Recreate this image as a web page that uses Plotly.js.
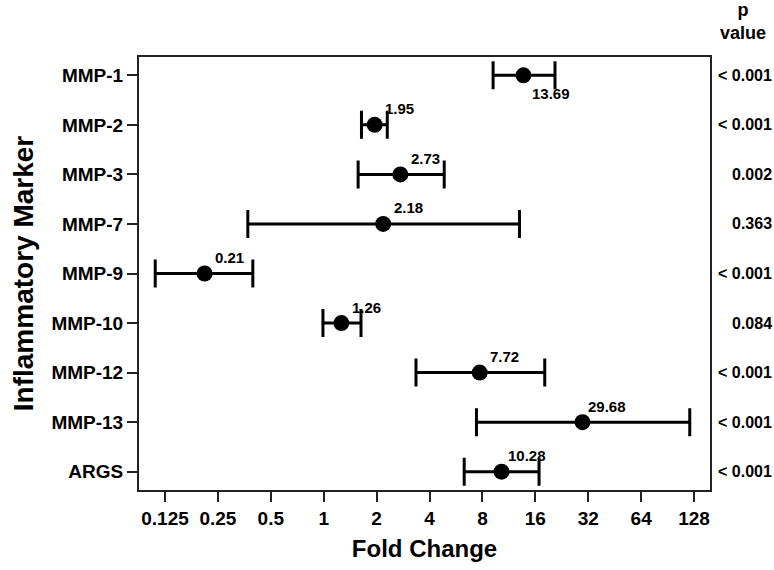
<!DOCTYPE html>
<html>
<head>
<meta charset="utf-8">
<script src="https://cdn.plot.ly/plotly-3.0.1.min.js"></script>
<style>
  html, body { margin: 0; padding: 0; background: white; }
  #plotDiv { width: 774px; height: 570px; }
</style>
</head>
<body>
<div id="plotDiv"></div>
<script>
// values
var markers = ['MMP-1', 'MMP-2', 'MMP-3', 'MMP-7', 'MMP-9', 'MMP-10', 'MMP-12', 'MMP-13', 'ARGS'];
var foldChange = [13.69, 1.95, 2.73, 2.18, 0.21, 1.26, 7.72, 29.68, 10.28];
var ciLower = [9.2, 1.64, 1.57, 0.37, 0.11, 0.99, 3.35, 7.4, 6.3];
var ciUpper = [20.7, 2.3, 4.85, 13.0, 0.395, 1.63, 18.1, 121, 16.8];
var pValues = ['< 0.001', '< 0.001', '0.002', '0.363', '< 0.001', '0.084', '< 0.001', '< 0.001', '< 0.001'];
var tickVals = [0.125, 0.25, 0.5, 1, 2, 4, 8, 16, 32, 64, 128];
var tickText = ['0.125', '0.25', '0.5', '1', '2', '4', '8', '16', '32', '64', '128'];

var fontFam = 'Liberation Sans, Arial, sans-serif';

var trace = {
    x: foldChange,
    y: markers,
    type: 'scatter',
    mode: 'markers',
    marker: { color: 'black', size: 16 },
    error_x: {
        type: 'data',
        symmetric: false,
        array: foldChange.map((v, i) => ciUpper[i] - v),
        arrayminus: foldChange.map((v, i) => v - ciLower[i]),
        color: 'black',
        thickness: 3,
        width: 14
    },
    hoverinfo: 'x+y'
};

// value labels next to each point
var annotations = foldChange.map((v, i) => ({
    x: Math.log10(v),
    y: markers[i],
    xref: 'x', yref: 'y',
    text: v.toFixed(2),
    showarrow: false,
    xshift: i === 0 ? 28 : 25,
    yshift: i === 0 ? -18 : 16,
    font: { family: fontFam, size: 15, color: 'black', weight: 'bold' }
}));

// p value column
pValues.forEach((p, i) => {
    annotations.push({
        x: 1, y: markers[i],
        xref: 'paper', yref: 'y',
        xanchor: 'right',
        xshift: 64,
        text: p,
        showarrow: false,
        font: { family: fontFam, size: 16, color: 'black', weight: 'bold' }
    });
});
annotations.push({
    x: 1, y: 1,
    xref: 'paper', yref: 'paper',
    xanchor: 'center', yanchor: 'bottom',
    xshift: 33, yshift: 12,
    text: 'p<br>value',
    showarrow: false,
    font: { family: fontFam, size: 18, color: 'black', weight: 'bold' }
});

var layout = {
    width: 774,
    height: 570,
    margin: { l: 139, r: 64, t: 57, b: 80 },
    paper_bgcolor: 'white',
    plot_bgcolor: 'white',
    showlegend: false,
    xaxis: {
        type: 'log',
        range: [-1.051, 2.198],
        tickvals: tickVals,
        ticktext: tickText,
        ticks: 'outside',
        ticklen: 10,
        tickwidth: 2,
        tickcolor: '#222',
        showgrid: false,
        zeroline: false,
        showline: true,
        linecolor: '#222',
        linewidth: 2,
        mirror: true,
        tickfont: { family: fontFam, size: 19, color: 'black', weight: 'bold' },
        title: {
            text: 'Fold Change',
            font: { family: fontFam, size: 24, color: 'black', weight: 'bold' },
            standoff: 12
        }
    },
    yaxis: {
        type: 'category',
        categoryarray: markers,
        range: [8.37, -0.37],
        ticks: 'outside',
        ticklen: 10,
        tickwidth: 2,
        tickcolor: '#222',
        showgrid: false,
        zeroline: false,
        showline: true,
        linecolor: '#222',
        linewidth: 2,
        mirror: true,
        tickfont: { family: fontFam, size: 19, color: 'black', weight: 'bold' },
        title: {
            text: 'Inflammatory Marker',
            font: { family: fontFam, size: 28, color: 'black', weight: 'bold' },
            standoff: 10
        }
    },
    shapes: [
        { type: 'line', xref: 'x', yref: 'paper', x0: 0, x1: 0, y0: 0, y1: 1,
          layer: 'below', line: { color: '#8c8c8c', width: 1.5 } }
    ],
    annotations: annotations
};

Plotly.newPlot('plotDiv', [trace], layout, { displayModeBar: false, staticPlot: true });
</script>
</body>
</html>
